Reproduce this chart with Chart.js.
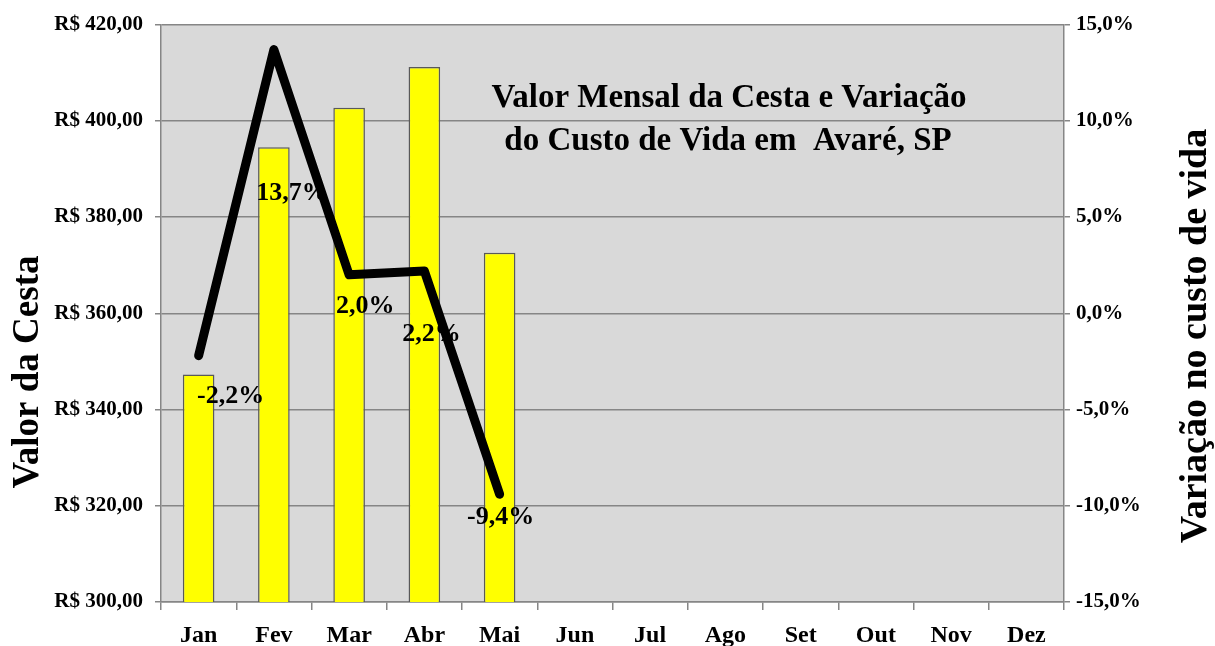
<!DOCTYPE html>
<html>
<head>
<meta charset="utf-8">
<script src="https://cdn.jsdelivr.net/npm/chart.js@4"></script>
<style>
    html, body { margin: 0; padding: 0; background: #fff; }
    #wrap { width: 1215px; height: 646px; }
</style>
</head>
<body>
<div id="wrap"><canvas id="cestaChart" width="1215" height="646"></canvas></div>
<script>
// Dados
const meses = ['Jan', 'Fev', 'Mar', 'Abr', 'Mai', 'Jun', 'Jul', 'Ago', 'Set', 'Out', 'Nov', 'Dez'];
const valorCesta = [347.3, 394.5, 402.7, 411.2, 372.6, null, null, null, null, null, null, null];
const variacao = [-2.2, 13.7, 2.0, 2.2, -9.4, null, null, null, null, null, null, null];
const tituloLinhas = ['Valor Mensal da Cesta e Variação', 'do Custo de Vida em  Avaré, SP'];

// deslocamento dos rótulos em relação ao ponto da linha (px)
const labelOffsets = [[32, 41], [18, 144], [16, 31], [7, 63], [1, 23]];

const serif = '"Liberation Serif", "Times New Roman", serif';

function fmtPct(v) {
    return v.toFixed(1).replace('.', ',') + '%';
}

// Fundo cinza da área do gráfico
const plotBackground = {
    id: 'plotBackground',
    beforeDraw(chart) {
        const { ctx, chartArea: a } = chart;
        ctx.save();
        ctx.fillStyle = '#d9d9d9';
        ctx.fillRect(a.left, a.top, a.right - a.left, a.bottom - a.top);
        ctx.restore();
    }
};

// Rótulos da linha: desenhados depois das barras e antes da linha
const pctLabels = {
    id: 'pctLabels',
    afterDatasetDraw(chart, args) {
        if (args.index !== 0) return;
        const meta = chart.getDatasetMeta(1);
        const ctx = chart.ctx;
        ctx.save();
        ctx.font = 'bold 26px ' + serif;
        ctx.fillStyle = '#000';
        ctx.textAlign = 'center';
        ctx.textBaseline = 'middle';
        variacao.forEach((v, i) => {
            if (v === null) return;
            const pt = meta.data[i];
            const off = labelOffsets[i] || [0, 0];
            ctx.fillText(fmtPct(v), pt.x + off[0], pt.y + off[1]);
        });
        ctx.restore();
    }
};

// Título dentro da área e títulos dos eixos
const textos = {
    id: 'textos',
    afterDraw(chart) {
        const ctx = chart.ctx;
        ctx.save();
        ctx.fillStyle = '#000';
        ctx.textAlign = 'center';
        ctx.textBaseline = 'alphabetic';
        ctx.font = 'bold 33px ' + serif;
        ctx.fillText(tituloLinhas[0], 729, 107);
        ctx.fillText(tituloLinhas[1], 728, 150);

        ctx.font = 'bold 37px ' + serif;
        ctx.textBaseline = 'middle';
        ctx.translate(28, 372);
        ctx.rotate(-Math.PI / 2);
        ctx.fillText('Valor da Cesta', 0, 0);
        ctx.restore();

        ctx.save();
        ctx.fillStyle = '#000';
        ctx.textAlign = 'center';
        ctx.textBaseline = 'middle';
        ctx.font = 'bold 38px ' + serif;
        ctx.translate(1196, 336);
        ctx.rotate(-Math.PI / 2);
        ctx.fillText('Variação no custo de vida', 0, 0);
        ctx.restore();
    }
};

const ctx = document.getElementById('cestaChart').getContext('2d');
const chart = new Chart(ctx, {
    type: 'bar',
    data: {
        labels: meses,
        datasets: [
            {
                type: 'bar',
                label: 'Valor da Cesta',
                data: valorCesta,
                yAxisID: 'y',
                backgroundColor: '#ffff00',
                borderColor: '#595959',
                borderWidth: 1.5,
                categoryPercentage: 1,
                barPercentage: 0.42,
                order: 1
            },
            {
                type: 'line',
                label: 'Variação',
                data: variacao,
                yAxisID: 'y1',
                borderColor: '#000',
                borderWidth: 9,
                borderCapStyle: 'round',
                borderJoinStyle: 'round',
                pointRadius: 0,
                tension: 0,
                spanGaps: false,
                order: 0
            }
        ]
    },
    options: {
        responsive: false,
        animation: false,
        layout: { padding: { top: 21, right: 0, bottom: 0, left: 0 } },
        plugins: {
            legend: { display: false },
            tooltip: { enabled: false }
        },
        scales: {
            x: {
                offset: true,
                grid: {
                    offset: true,
                    drawOnChartArea: false,
                    color: '#868686',
                    lineWidth: 1.5,
                    tickLength: 8
                },
                border: { color: '#868686', width: 1.5 },
                ticks: {
                    color: '#000',
                    font: { family: serif, size: 24, weight: 'bold' },
                    padding: 11,
                    maxRotation: 0,
                    autoSkip: false
                },
                afterFit(scale) { scale.height = 44; }
            },
            y: {
                position: 'left',
                min: 300,
                max: 420,
                ticks: {
                    stepSize: 20,
                    color: '#000',
                    font: { family: serif, size: 21, weight: 'bold' },
                    padding: 12,
                    callback: v => 'R$ ' + v.toFixed(2).replace('.', ',')
                },
                grid: { color: '#868686', lineWidth: 1.5, tickLength: 6 },
                border: { color: '#868686', width: 1.5 },
                afterFit(scale) { scale.width = 161; }
            },
            y1: {
                position: 'right',
                min: -15,
                max: 15,
                ticks: {
                    stepSize: 5,
                    color: '#000',
                    font: { family: serif, size: 21, weight: 'bold' },
                    padding: 6,
                    callback: v => fmtPct(v)
                },
                grid: { drawOnChartArea: false, color: '#868686', lineWidth: 1.5, tickLength: 6 },
                border: { color: '#868686', width: 1.5 },
                afterFit(scale) { scale.width = 151; }
            }
        }
    },
    plugins: [plotBackground, pctLabels, textos]
});
</script>
</body>
</html>
